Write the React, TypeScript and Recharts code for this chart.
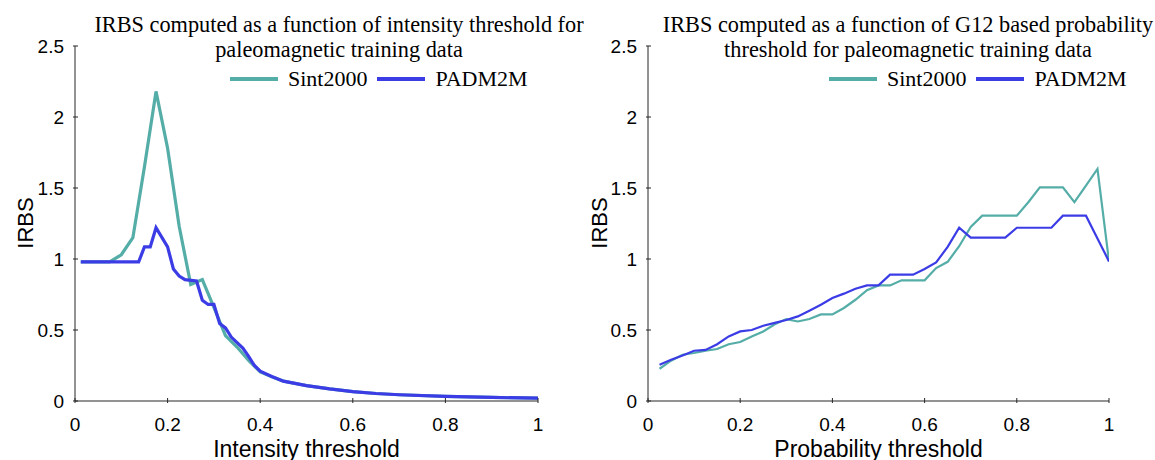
import { Line, LineChart, XAxis, YAxis } from "recharts";

const SINT_COLOR = "#55ADA8";
const PADM_COLOR = "#3C3CE6";
const AXIS_COLOR = "#262626";
const SANS = "'Liberation Sans', Arial, Helvetica, sans-serif";
const SERIF = "'Liberation Serif', 'Times New Roman', serif";

const seriesNames = ["Sint2000", "PADM2M"];

const xTicks = [0, 0.2, 0.4, 0.6, 0.8, 1];
const yTicks = [0, 0.5, 1, 1.5, 2, 2.5];

// IRBS against the intensity threshold
const intensityXSint = [
  0.0125, 0.05, 0.075, 0.1, 0.125, 0.15, 0.175, 0.2, 0.225, 0.25, 0.275, 0.3,
  0.325, 0.35, 0.375, 0.4, 0.425, 0.45, 0.5, 0.55, 0.6, 0.65, 0.7, 0.8, 0.9, 1,
];
const intensitySint = [
  0.98, 0.98, 0.98, 1.03, 1.15, 1.65, 2.18, 1.78, 1.23, 0.82, 0.855, 0.66,
  0.46, 0.38, 0.285, 0.205, 0.17, 0.14, 0.108, 0.085, 0.066, 0.053, 0.044,
  0.032, 0.025, 0.02,
];
const intensityXPadm = [
  0.0125, 0.05, 0.1, 0.1375, 0.15, 0.1625, 0.175, 0.2, 0.2125, 0.225, 0.2375,
  0.2625, 0.275, 0.2875, 0.3, 0.3125, 0.325, 0.3375, 0.3625, 0.375, 0.3875,
  0.4, 0.425, 0.45, 0.5, 0.55, 0.6, 0.65, 0.7, 0.8, 0.9, 1,
];
const intensityPadm = [
  0.98, 0.98, 0.98, 0.98, 1.085, 1.085, 1.22, 1.085, 0.93, 0.88, 0.855, 0.845,
  0.71, 0.68, 0.68, 0.545, 0.515, 0.45, 0.373, 0.314, 0.25, 0.21, 0.173, 0.14,
  0.108, 0.085, 0.066, 0.053, 0.044, 0.032, 0.025, 0.02,
];

// IRBS against the G12 probability threshold
const probabilityX = [
  0.025, 0.05, 0.075, 0.1, 0.125, 0.15, 0.175, 0.2, 0.225, 0.25, 0.275, 0.3,
  0.325, 0.35, 0.375, 0.4, 0.425, 0.45, 0.475, 0.5, 0.525, 0.55, 0.575, 0.6,
  0.625, 0.65, 0.675, 0.7, 0.725, 0.75, 0.775, 0.8, 0.825, 0.85, 0.875, 0.9,
  0.925, 0.95, 0.975, 1,
];
const probabilitySint = [
  0.227, 0.284, 0.326, 0.338, 0.354, 0.366, 0.4, 0.415, 0.455, 0.49, 0.54,
  0.577, 0.56, 0.577, 0.61, 0.61, 0.655, 0.713, 0.78, 0.814, 0.814, 0.85, 0.85,
  0.85, 0.936, 0.98, 1.09, 1.225, 1.305, 1.305, 1.305, 1.305, 1.4, 1.505, 1.505,
  1.505, 1.4, 1.516, 1.634, 0.983,
];
const probabilityPadm = [
  0.256, 0.29, 0.32, 0.354, 0.36, 0.4, 0.455, 0.49, 0.5, 0.53, 0.55, 0.57,
  0.596, 0.636, 0.678, 0.725, 0.756, 0.79, 0.814, 0.814, 0.89, 0.89, 0.89,
  0.93, 0.976, 1.085, 1.22, 1.15, 1.15, 1.15, 1.15, 1.22, 1.22, 1.22, 1.22,
  1.305, 1.305, 1.305, 1.145, 0.983,
];

const toRows = (xs: number[], ys: number[]) => xs.map((x, i) => ({ x, y: ys[i] }));

function XTick({ x, y, payload }: any) {
  return (
    <g>
      <line x1={x} x2={x} y1={y} y2={y - 5} stroke={AXIS_COLOR} />
      <text x={x} y={y + 28} textAnchor="middle" fontSize={19} fontFamily={SANS} fill="#000">
        {payload.value}
      </text>
    </g>
  );
}

function YTick({ x, y, payload }: any) {
  return (
    <g>
      <line x1={x} x2={x + 5} y1={y} y2={y} stroke={AXIS_COLOR} />
      <text x={x - 9} y={y + 6.7} textAnchor="end" fontSize={19} fontFamily={SANS} fill="#000">
        {payload.value}
      </text>
    </g>
  );
}

type Series = { name: string; color: string; rows: { x: number; y: number }[] };

type PanelProps = {
  left: number;
  width: number;
  yAxisWidth: number;
  marginRight: number;
  title: string[];
  titleCenter: number;
  legendLeft: number;
  xLabel: string;
  yLabelCenter: number;
  series: Series[];
  strokeWidth: number;
};

function Panel(p: PanelProps) {
  return (
    <>
      <div
        style={{
          position: "absolute",
          left: p.titleCenter - 300,
          top: 11.5,
          width: 600,
          textAlign: "center",
          fontFamily: SERIF,
          fontSize: 22.3,
          lineHeight: "25.6px",
          color: "#000",
        }}
      >
        {p.title.map((t) => (
          <div key={t}>{t}</div>
        ))}
      </div>

      <div
        style={{
          position: "absolute",
          left: p.legendLeft,
          top: 67,
          height: 24,
          display: "flex",
          alignItems: "center",
          fontFamily: SERIF,
          fontSize: 22,
          whiteSpace: "nowrap",
        }}
      >
        {p.series.map((s) => (
          <div key={s.name} style={{ display: "flex", alignItems: "center", marginRight: 10 }}>
            <span style={{ display: "inline-block", width: 48, height: 3.5, background: s.color, marginRight: 10 }} />
            <span>{s.name}</span>
          </div>
        ))}
      </div>

      <div
        style={{
          position: "absolute",
          left: p.yLabelCenter,
          top: 223,
          transform: "translate(-50%, -50%) rotate(-90deg)",
          fontFamily: SANS,
          fontSize: 22,
          whiteSpace: "nowrap",
        }}
      >
        IRBS
      </div>

      <div style={{ position: "absolute", left: p.left, top: 0 }}>
        <LineChart width={p.width} height={460} margin={{ top: 46, right: p.marginRight, bottom: 0, left: 0 }}>
          <XAxis
            type="number"
            dataKey="x"
            domain={[0, 1]}
            ticks={xTicks}
            interval={0}
            height={59}
            tickSize={0}
            tickLine={false}
            axisLine={{ stroke: AXIS_COLOR }}
            tick={<XTick />}
            allowDataOverflow
            label={{
              value: p.xLabel,
              position: "insideBottom",
              offset: 3,
              fill: "#000",
              fontSize: 23,
              fontFamily: SANS,
            }}
          />
          <YAxis
            type="number"
            domain={[0, 2.5]}
            ticks={yTicks}
            interval={0}
            width={p.yAxisWidth}
            tickSize={0}
            tickLine={false}
            axisLine={{ stroke: AXIS_COLOR }}
            tick={<YTick />}
            allowDataOverflow
          />
          {p.series.map((s) => (
            <Line
              key={s.name}
              data={s.rows}
              dataKey="y"
              name={s.name}
              type="linear"
              stroke={s.color}
              strokeWidth={p.strokeWidth}
              strokeLinejoin="miter"
              dot={false}
              activeDot={false}
              isAnimationActive={false}
            />
          ))}
        </LineChart>
      </div>
    </>
  );
}

export default function App() {
  return (
    <div style={{ position: "absolute", left: 0, top: 0, width: 1155, height: 460, background: "#fff", overflow: "hidden" }}>
      <Panel
        left={0}
        width={577}
        yAxisWidth={75}
        marginRight={39}
        title={["IRBS computed as a function of intensity threshold for", "paleomagnetic training data"]}
        titleCenter={339}
        legendLeft={230}
        xLabel="Intensity threshold"
        yLabelCenter={26}
        strokeWidth={3.2}
        series={[
          { name: seriesNames[0], color: SINT_COLOR, rows: toRows(intensityXSint, intensitySint) },
          { name: seriesNames[1], color: PADM_COLOR, rows: toRows(intensityXPadm, intensityPadm) },
        ]}
      />
      <Panel
        left={577}
        width={578}
        yAxisWidth={71}
        marginRight={46}
        title={["IRBS computed as a function of G12 based probability", "threshold for paleomagnetic training data"]}
        titleCenter={908}
        legendLeft={829}
        xLabel="Probability threshold"
        yLabelCenter={600}
        strokeWidth={2.2}
        series={[
          { name: seriesNames[0], color: SINT_COLOR, rows: toRows(probabilityX, probabilitySint) },
          { name: seriesNames[1], color: PADM_COLOR, rows: toRows(probabilityX, probabilityPadm) },
        ]}
      />
    </div>
  );
}
